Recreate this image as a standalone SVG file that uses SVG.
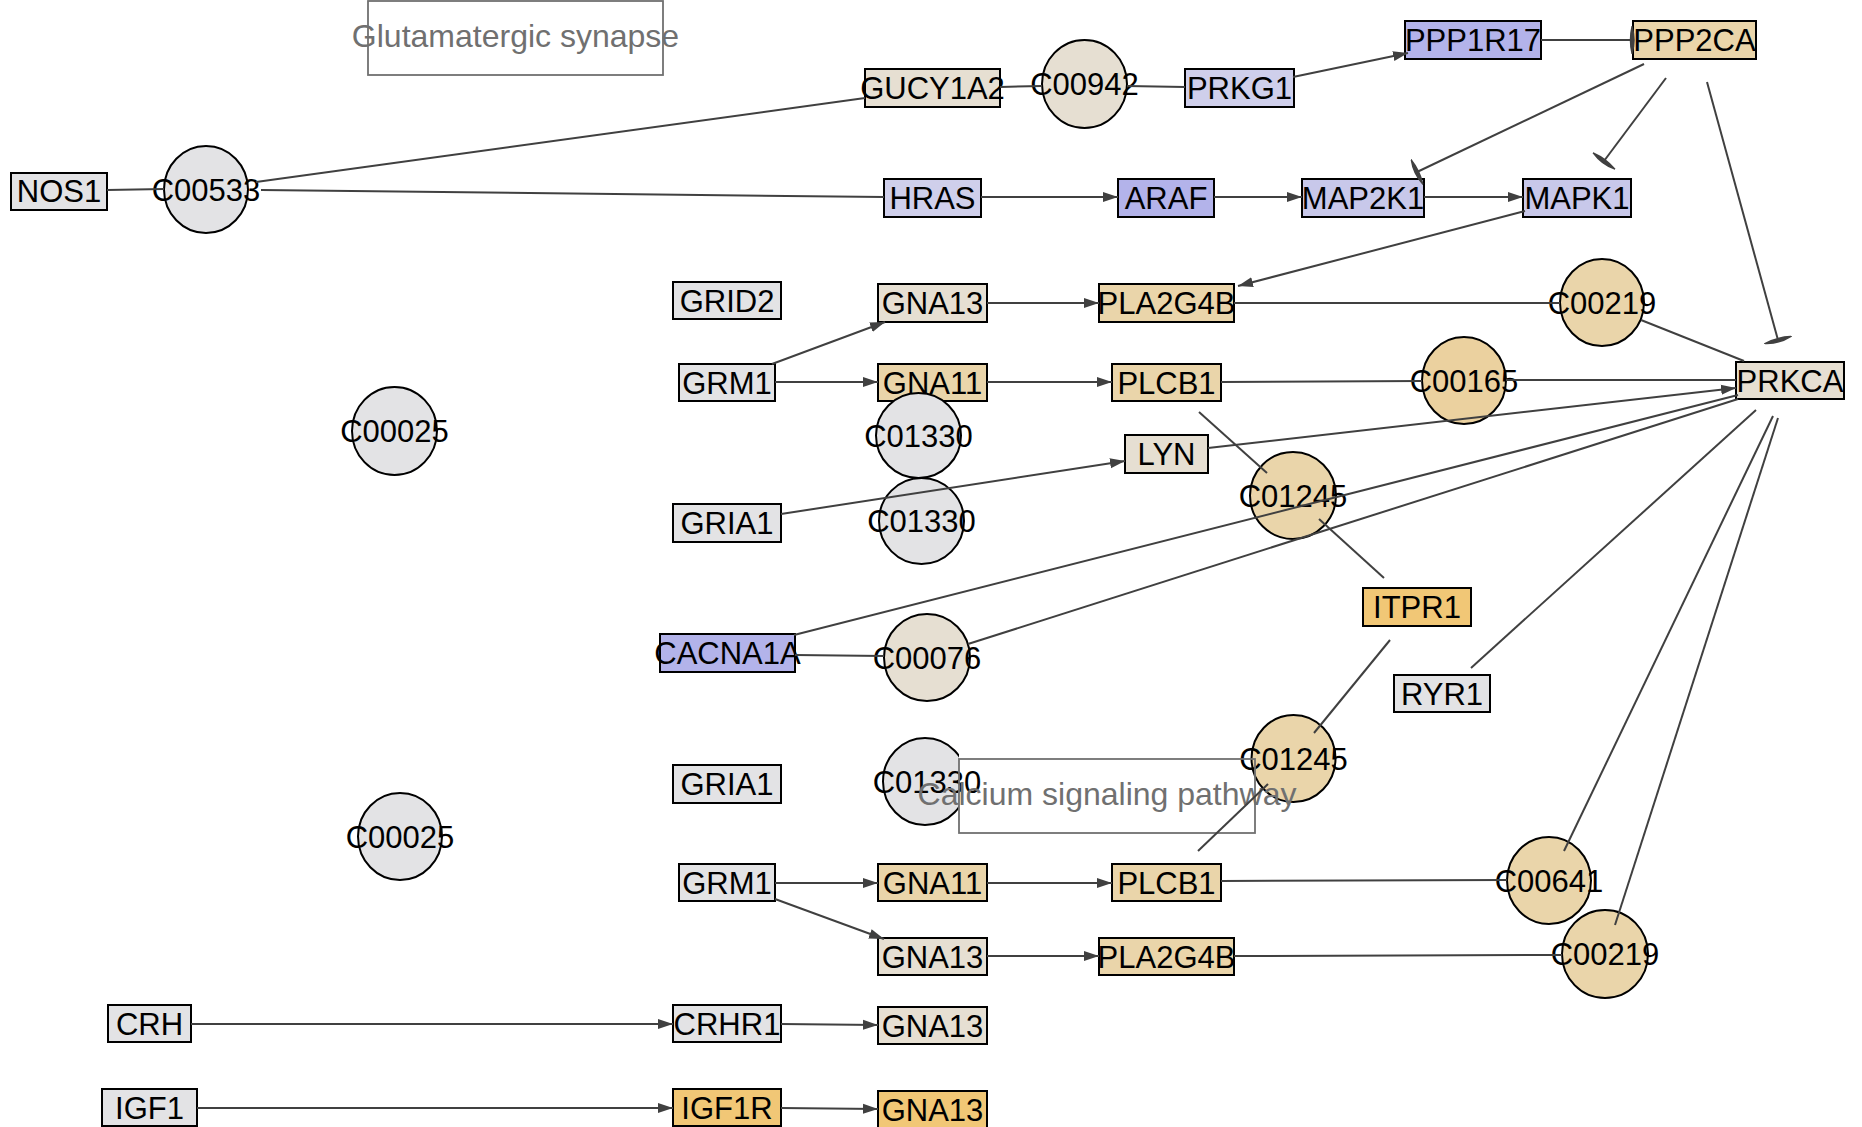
<svg xmlns="http://www.w3.org/2000/svg" width="1862" height="1127" viewBox="0 0 1862 1127">
<style>
text{font-family:"Liberation Sans",Arial,sans-serif;fill:#000;}
.n text{font-size:31px;text-anchor:middle;}
.n rect,.n ellipse{stroke:#000;stroke-width:2;}
.gray{fill:#e3e3e5;}
.beige{fill:#e6dfd2;}
.lp{fill:#cfcfeb;}
.mp{fill:#c8c8ea;}
.pu{fill:#b3b3ea;}
.tan{fill:#ead5aa;}
.tan2{fill:#ebd19f;}
.org{fill:#f1c776;}
.pw rect{fill:none;stroke:#707070;stroke-width:1.8;}
.pw text{fill:#707070;font-size:32px;text-anchor:middle;}
#edges line{stroke:#404040;stroke-width:2;fill:none;}
.a{marker-end:url(#arr);}
.i{marker-end:url(#inh);}
</style>
<defs>
<marker id="arr" markerUnits="userSpaceOnUse" markerWidth="16" markerHeight="12" refX="15" refY="6" orient="auto">
<path d="M0,1 L15,6 L0,11 Z" fill="#404040"/>
</marker>
<marker id="inh" markerUnits="userSpaceOnUse" markerWidth="10" markerHeight="28" refX="5" refY="14" orient="auto">
<path d="M5,1 Q9,14 5,27 Q2,14 5,1 Z" fill="#404040" stroke="#404040" stroke-width="1.5"/>
</marker>
<clipPath id="clipC"><rect x="0" y="700" width="959" height="200"/></clipPath>
</defs>
<rect width="1862" height="1127" fill="#fff"/>
<g id="nodes" class="n">
<g id="NOS1"><rect class="gray" x="11" y="173" width="96" height="37"/><text x="59" y="202">NOS1</text></g>
<g id="GUCY1A2"><rect class="beige" x="865" y="69" width="135" height="38"/><text x="932.5" y="99">GUCY1A2</text></g>
<g id="PRKG1"><rect class="lp" x="1185" y="69" width="109" height="38"/><text x="1239.5" y="99">PRKG1</text></g>
<g id="PPP1R17"><rect class="pu" x="1405" y="21" width="136" height="38"/><text x="1473" y="51">PPP1R17</text></g>
<g id="PPP2CA"><rect class="tan" x="1633" y="21" width="123" height="38"/><text x="1694.5" y="51">PPP2CA</text></g>
<g id="HRAS"><rect class="lp" x="884" y="179" width="97" height="38"/><text x="932.5" y="209">HRAS</text></g>
<g id="ARAF"><rect class="pu" x="1118" y="179" width="96" height="38"/><text x="1166" y="209">ARAF</text></g>
<g id="MAP2K1"><rect class="mp" x="1302" y="179" width="122" height="38"/><text x="1363" y="209">MAP2K1</text></g>
<g id="MAPK1"><rect class="mp" x="1523" y="179" width="108" height="38"/><text x="1577" y="209">MAPK1</text></g>
<g id="GRID2"><rect class="gray" x="673" y="282" width="108" height="37"/><text x="727" y="311.5">GRID2</text></g>
<g id="GNA13_1"><rect class="beige" x="878" y="284" width="109" height="38"/><text x="932.5" y="314">GNA13</text></g>
<g id="PLA2G4B_1"><rect class="tan" x="1099" y="284" width="135" height="38"/><text x="1166.5" y="314">PLA2G4B</text></g>
<g id="GRM1_1"><rect class="gray" x="679" y="364" width="96" height="37"/><text x="727" y="393.5">GRM1</text></g>
<g id="GNA11_1"><rect class="tan" x="878" y="364" width="109" height="37"/><text x="932.5" y="393.5">GNA11</text></g>
<g id="PLCB1_1"><rect class="tan" x="1112" y="364" width="109" height="37"/><text x="1166.5" y="393.5">PLCB1</text></g>
<g id="PRKCA"><rect class="beige" x="1736" y="362" width="108" height="37"/><text x="1790" y="391.5">PRKCA</text></g>
<g id="LYN"><rect class="beige" x="1125" y="435" width="83" height="38"/><text x="1166.5" y="465">LYN</text></g>
<g id="GRIA1_1"><rect class="gray" x="673" y="504" width="108" height="38"/><text x="727" y="534">GRIA1</text></g>
<g id="ITPR1"><rect class="org" x="1363" y="588" width="108" height="38"/><text x="1417" y="618">ITPR1</text></g>
<g id="CACNA1A"><rect class="pu" x="660" y="634" width="135" height="38"/><text x="727.5" y="664">CACNA1A</text></g>
<g id="RYR1"><rect class="gray" x="1394" y="675" width="96" height="37"/><text x="1442" y="704.5">RYR1</text></g>
<g id="GRIA1_2"><rect class="gray" x="673" y="765" width="108" height="38"/><text x="727" y="795">GRIA1</text></g>
<g id="GRM1_2"><rect class="gray" x="679" y="864" width="96" height="37"/><text x="727" y="893.5">GRM1</text></g>
<g id="GNA11_2"><rect class="tan" x="878" y="864" width="109" height="37"/><text x="932.5" y="893.5">GNA11</text></g>
<g id="PLCB1_2"><rect class="tan" x="1112" y="864" width="109" height="37"/><text x="1166.5" y="893.5">PLCB1</text></g>
<g id="GNA13_2"><rect class="beige" x="878" y="938" width="109" height="37"/><text x="932.5" y="967.5">GNA13</text></g>
<g id="PLA2G4B_2"><rect class="tan" x="1099" y="938" width="135" height="37"/><text x="1166.5" y="967.5">PLA2G4B</text></g>
<g id="CRH"><rect class="gray" x="108" y="1005" width="83" height="37"/><text x="149.5" y="1034.5">CRH</text></g>
<g id="CRHR1"><rect class="gray" x="673" y="1005" width="108" height="37"/><text x="727" y="1034.5">CRHR1</text></g>
<g id="GNA13_3"><rect class="beige" x="878" y="1007" width="109" height="37"/><text x="932.5" y="1036.5">GNA13</text></g>
<g id="IGF1"><rect class="gray" x="102" y="1089" width="95" height="37"/><text x="149.5" y="1118.5">IGF1</text></g>
<g id="IGF1R"><rect class="org" x="673" y="1089" width="108" height="37"/><text x="727" y="1118.5">IGF1R</text></g>
<g id="GNA13_4"><rect class="org" x="878" y="1091" width="109" height="40"/><text x="932.5" y="1120.5">GNA13</text></g>
<g id="C00533"><ellipse class="gray" cx="206" cy="189.5" rx="42" ry="43.5"/><text x="206" y="200.5">C00533</text></g>
<g id="C00942"><ellipse class="beige" cx="1084.5" cy="84" rx="42.5" ry="44"/><text x="1084.5" y="95">C00942</text></g>
<g id="C00219_1"><ellipse class="tan" cx="1602" cy="302.5" rx="42" ry="43.5"/><text x="1602" y="313.5">C00219</text></g>
<g id="C00165"><ellipse class="tan2" cx="1464" cy="380.5" rx="42" ry="43.5"/><text x="1464" y="391.5">C00165</text></g>
<g id="C00025_1"><ellipse class="gray" cx="394.5" cy="431" rx="42.5" ry="44"/><text x="394.5" y="442">C00025</text></g>
<g id="C01330_1"><ellipse class="gray" cx="918.5" cy="435.5" rx="42.5" ry="42.5"/><text x="918.5" y="446.5">C01330</text></g>
<g id="C01330_2"><ellipse class="gray" cx="921.5" cy="521" rx="42.5" ry="43"/><text x="921.5" y="532">C01330</text></g>
<g id="C01245_1"><ellipse class="tan" cx="1293" cy="495.5" rx="43" ry="43.5"/><text x="1293" y="506.5">C01245</text></g>
<g id="C00076"><ellipse class="beige" cx="927" cy="657.5" rx="43" ry="43.5"/><text x="927" y="668.5">C00076</text></g>
<g id="C01245_2"><ellipse class="tan" cx="1293.5" cy="758.5" rx="42" ry="43.5"/><text x="1293.5" y="769.5">C01245</text></g>
<g id="C01330_3"><ellipse class="gray" cx="925" cy="781.5" rx="42" ry="43.5" clip-path="url(#clipC)"/><text x="927" y="792.5">C01330</text></g>
<g id="C00025_2"><ellipse class="gray" cx="400" cy="836.5" rx="42" ry="43.5"/><text x="400" y="847.5">C00025</text></g>
<g id="C00641"><ellipse class="tan" cx="1549" cy="880.5" rx="42" ry="43.5"/><text x="1549" y="891.5">C00641</text></g>
<g id="C00219_2"><ellipse class="tan" cx="1605" cy="954" rx="43" ry="44"/><text x="1605" y="965">C00219</text></g>
</g>
<g id="pathways" class="pw">
<g id="pw_glutamatergic"><rect x="368" y="1" width="295" height="74"/><text x="515.5" y="47">Glutamatergic synapse</text></g>
<g id="pw_calcium"><rect x="959" y="759" width="296" height="74"/><text x="1107" y="805">Calcium signaling pathway</text></g>
</g>
<g id="edges">
<line x1="107" y1="190" x2="164" y2="189"/>
<line x1="256" y1="182" x2="865" y2="98"/>
<line x1="261" y1="190" x2="884" y2="197"/>
<line x1="1000" y1="87" x2="1042" y2="86"/>
<line x1="1127" y1="86" x2="1185" y2="87"/>
<line class="a" x1="1293" y1="77" x2="1408" y2="53"/>
<line class="i" x1="1541" y1="40" x2="1632" y2="40"/>
<line class="i" x1="1644" y1="64" x2="1417" y2="172"/>
<line class="i" x1="1666" y1="78" x2="1604" y2="161"/>
<line class="i" x1="1707" y1="82" x2="1778" y2="340"/>
<line class="a" x1="981" y1="197" x2="1118" y2="197"/>
<line class="a" x1="1214" y1="197" x2="1302" y2="197"/>
<line class="a" x1="1424" y1="197" x2="1523" y2="197"/>
<line class="a" x1="1525" y1="211" x2="1238" y2="286"/>
<line class="a" x1="772" y1="364" x2="885" y2="322"/>
<line class="a" x1="987" y1="303" x2="1099" y2="303"/>
<line x1="1234" y1="303" x2="1560" y2="303"/>
<line x1="1641" y1="320" x2="1744" y2="361"/>
<line class="a" x1="775" y1="382" x2="878" y2="382"/>
<line class="a" x1="987" y1="382" x2="1112" y2="382"/>
<line x1="1221" y1="382" x2="1422" y2="381"/>
<line x1="1506" y1="380" x2="1736" y2="380"/>
<line x1="1199" y1="412" x2="1267" y2="473"/>
<line x1="1319" y1="519" x2="1384" y2="578"/>
<line x1="1390" y1="640" x2="1314" y2="733"/>
<line class="a" x1="781" y1="514" x2="1125" y2="461"/>
<line class="a" x1="1208" y1="448" x2="1736" y2="388"/>
<line x1="1738" y1="395" x2="794" y2="635"/>
<line x1="1738" y1="399" x2="968" y2="644"/>
<line x1="795" y1="655" x2="884" y2="656"/>
<line x1="1756" y1="410" x2="1471" y2="668"/>
<line x1="1773" y1="416" x2="1564" y2="851"/>
<line x1="1778" y1="418" x2="1615" y2="925"/>
<line x1="1198" y1="851" x2="1268" y2="784"/>
<line class="a" x1="775" y1="883" x2="878" y2="883"/>
<line class="a" x1="987" y1="883" x2="1112" y2="883"/>
<line x1="1221" y1="881" x2="1507" y2="880"/>
<line class="a" x1="775" y1="899" x2="884" y2="939"/>
<line class="a" x1="987" y1="956" x2="1099" y2="956"/>
<line x1="1234" y1="956" x2="1562" y2="955"/>
<line class="a" x1="191" y1="1024" x2="673" y2="1024"/>
<line class="a" x1="781" y1="1024" x2="878" y2="1025"/>
<line class="a" x1="197" y1="1108" x2="673" y2="1108"/>
<line class="a" x1="781" y1="1108" x2="878" y2="1109"/>
</g>
</svg>
